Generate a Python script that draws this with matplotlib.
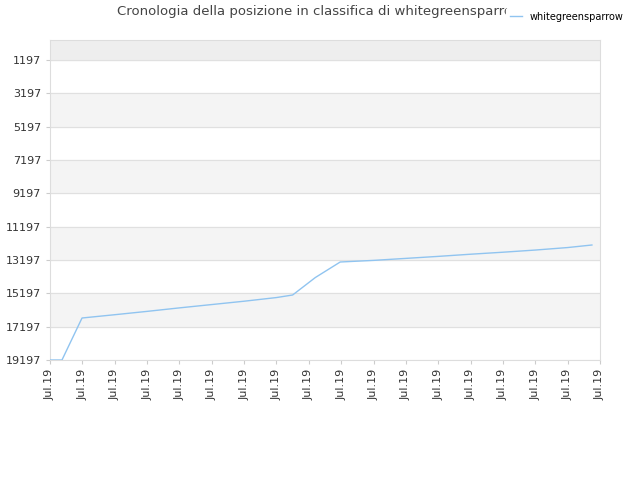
import matplotlib
matplotlib.use("Agg")
import matplotlib.pyplot as plt

x_pos = [0, 0.37, 0.99, 2, 3, 4, 5, 6, 7, 7.5, 8.2, 8.97, 10, 11, 12, 13, 14, 15, 16, 16.75]
ranks = [19197, 19197, 16677, 16480, 16280, 16070, 15870, 15670, 15450, 15297, 14250, 13317,
         13220, 13100, 12980, 12850, 12730, 12600, 12450, 12297]
tick_labels = ["Jul.19"] * 18
yticks = [1197, 3197, 5197, 7197, 9197, 11197, 13197, 15197, 17197, 19197]

fig = plt.figure(figsize=(6.4, 4.8), dpi=100)
ax = fig.add_axes([50/640, 1-360/480, 550/640, 320/480])
ax.set_ylim(19197, -3)
ax.set_xlim(0, 17)
ax.axhspan(1197, -3, color="#eeeeee", zorder=0)
for i, (a, b) in enumerate(zip(yticks[:-1], yticks[1:])):
    if i % 2 == 1:
        ax.axhspan(a, b, color="#f4f4f4", zorder=0)
for y in yticks:
    ax.axhline(y, color="#e0e0e0", lw=0.8, zorder=1)
ax.plot(x_pos, ranks, color="#90c4f0", lw=1, label="whitegreensparrow", zorder=3)
ax.set_yticks(yticks)
ax.set_yticklabels([str(v) for v in yticks], fontsize=8, color="#333333")
ax.set_xticks(range(18))
ax.set_xticklabels(tick_labels, rotation=90, fontsize=8, color="#333333")
for s in ax.spines.values():
    s.set_color("#dddddd")
ax.tick_params(length=3, color="#cccccc")
fig.text(0.5, 1-12/480, "Cronologia della posizione in classifica di whitegreensparrow",
         ha="center", va="center", fontsize=9.5, color="#444444")
leg = fig.legend(loc="upper right", bbox_to_anchor=(0.985, 0.99), fontsize=7, frameon=True,
                 handlelength=1.2, borderaxespad=0.3)
leg.get_frame().set_edgecolor("white")
leg.get_frame().set_alpha(1)
fig.savefig("out.png")
